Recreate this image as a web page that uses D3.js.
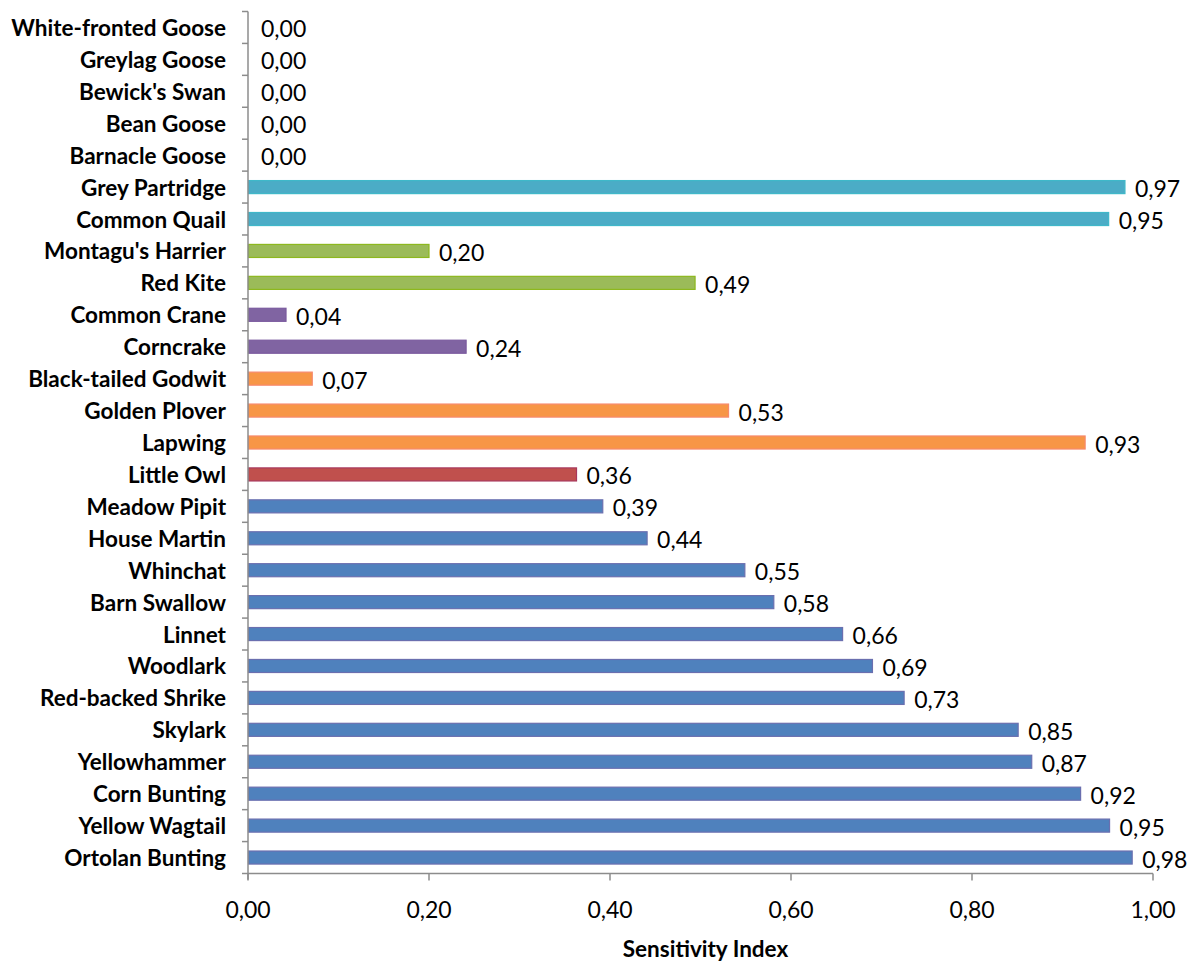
<!DOCTYPE html>
<html><head><meta charset="utf-8">
<script src="https://cdn.jsdelivr.net/npm/d3@7"></script>
<style>body{margin:0;background:#fff}svg{display:block}</style>
</head><body>
<svg id="c" width="1193" height="961"></svg>
<script>
const species = ["White-fronted Goose","Greylag Goose","Bewick's Swan","Bean Goose","Barnacle Goose","Grey Partridge","Common Quail","Montagu's Harrier","Red Kite","Common Crane","Corncrake","Black-tailed Godwit","Golden Plover","Lapwing","Little Owl","Meadow Pipit","House Martin","Whinchat","Barn Swallow","Linnet","Woodlark","Red-backed Shrike","Skylark","Yellowhammer","Corn Bunting","Yellow Wagtail","Ortolan Bunting"];
const values = [0,0,0,0,0,0.969,0.951,0.200,0.494,0.042,0.241,0.071,0.531,0.925,0.363,0.392,0.441,0.549,0.581,0.657,0.690,0.725,0.851,0.866,0.920,0.952,0.977];
const groups = ["g","g","g","g","g","aqua","aqua","green","green","purple","purple","orange","orange","orange","red","blue","blue","blue","blue","blue","blue","blue","blue","blue","blue","blue","blue"];
const xTicks = [0,0.2,0.4,0.6,0.8,1.0];
const axisTitle = "Sensitivity Index";

const fill = d3.scaleOrdinal().domain(["g","aqua","green","purple","orange","red","blue"])
  .range(["#ffffff","#4BACC6","#9BBB59","#8064A2","#F79646","#C0504D","#4F81BD"]);
const stroke = d3.scaleOrdinal().domain(["g","aqua","green","purple","orange","red","blue"])
  .range(["#ffffff","#3FB8C9","#8DB81E","#7A5A9E","#F7896C","#A8385C","#6A6FAF"]);

const svg = d3.select("#c");
const L = 248, R = 1153, T = 11.5, B = 873.5;
const x = d3.scaleLinear().domain([0,1]).range([L,R]);
const y = d3.scaleBand().domain(species).range([T,B]).paddingInner(0.56).paddingOuter(0.28);
const band = d3.scaleBand().domain(species).range([T,B]);
const fmt = v => d3.format(".2f")(v).replace(".", ",");
const FONT = "Lato, 'Open Sans', sans-serif";

// bars
svg.append("g").selectAll("rect").data(species).join("rect")
  .filter((d,i)=>values[i]>0)
  .attr("x", L+0.5)
  .attr("y", d=>y(d)+0.5)
  .attr("width", (d)=>x(values[species.indexOf(d)])-L-0.5)
  .attr("height", y.bandwidth()-1)
  .attr("fill", d=>fill(groups[species.indexOf(d)]))
  .attr("stroke", d=>stroke(groups[species.indexOf(d)]))
  .attr("stroke-width", 1.2);

// axes
const ax = svg.append("g").attr("stroke","#8c8c8c").attr("stroke-width",1.5);
ax.append("line").attr("x1",L).attr("x2",L).attr("y1",T).attr("y2",B+6);
const bounds = species.map(s=>band(s)).concat([B]);
ax.selectAll(".yt").data(bounds).join("line").attr("class","yt")
  .attr("x1",L-6).attr("x2",L).attr("y1",d=>d).attr("y2",d=>d);
ax.append("line").attr("x1",L).attr("x2",R).attr("y1",B).attr("y2",B);
ax.selectAll(".xt").data(xTicks).join("line").attr("class","xt")
  .attr("x1",d=>x(d)).attr("x2",d=>x(d)).attr("y1",B).attr("y2",B+7);

// category labels
svg.append("g").selectAll("text").data(species).join("text")
  .attr("x", L-22).attr("y", d=>band(d)+band.bandwidth()/2)
  .attr("text-anchor","end").attr("dominant-baseline","central")
  .attr("font-family",FONT).attr("font-weight","bold")
  .attr("font-size",22.5).attr("fill","#000").text(d=>d);

// value labels
svg.append("g").selectAll("text").data(species).join("text")
  .attr("x", (d,i)=>x(values[i])+ (values[i]>0?10:13))
  .attr("y", d=>band(d)+band.bandwidth()/2+1)
  .attr("dominant-baseline","central")
  .attr("font-family",FONT)
  .attr("font-size",23).attr("fill","#000")
  .text((d,i)=>fmt(Math.round(values[i]*100)/100));

// x tick labels
svg.append("g").selectAll("text").data(xTicks).join("text")
  .attr("x", d=>x(d)).attr("y", 909)
  .attr("text-anchor","middle").attr("dominant-baseline","central")
  .attr("font-family",FONT)
  .attr("font-size",23).attr("fill","#000").text(d=>fmt(d));

svg.append("text").attr("x",(L+R)/2+5).attr("y",948)
  .attr("text-anchor","middle").attr("dominant-baseline","central")
  .attr("font-family",FONT).attr("font-weight","bold")
  .attr("font-size",22.5).attr("fill","#000").text(axisTitle);
</script>
</body></html>
